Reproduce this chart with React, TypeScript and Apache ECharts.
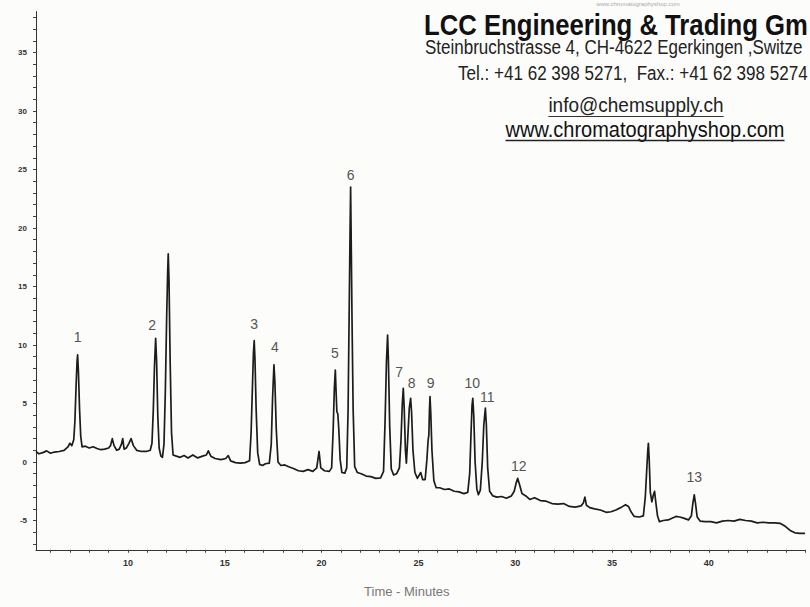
import React, { useEffect, useRef } from 'react';
import * as echarts from 'echarts';

// ---- axis ranges and ticks ----
const xAxisRange = [5.25, 45];
const yAxisRange = [-7.5, 38.5];
const xLabelValues = [10, 15, 20, 25, 30, 35, 40];
const xTickValues = [6, 7, 8, 9, 10, 11, 12, 13, 14, 15, 16, 17, 18, 19, 20, 21, 22, 23, 24, 25, 26, 27, 28, 29, 30, 31, 32, 33, 34, 35, 36, 37, 38, 39, 40, 41, 42, 43, 44, 45];
const yLabelValues = [-5, 0, 5, 10, 15, 20, 25, 30, 35];
const yTickValues = [-7, -6, -5, -4, -3, -2, -1, 0, 1, 2, 3, 4, 5, 6, 7, 8, 9, 10, 11, 12, 13, 14, 15, 16, 17, 18, 19, 20, 21, 22, 23, 24, 25, 26, 27, 28, 29, 30, 31, 32, 33, 34, 35, 36, 37, 38];

// ---- chromatogram trace [time (min), signal] ----
const traceEarly: [number, number][] = [
  [5.25, 0.9], [5.4, 0.7], [5.6, 0.8], [5.8, 0.95], [6.0, 0.75], [6.2, 0.85], [6.45, 0.9], [6.7, 1.0], [6.9, 1.3], [7.0, 1.6], [7.1, 1.4], [7.2, 1.9],
  [7.26, 3.5], [7.32, 6.5], [7.37, 8.6], [7.4, 9.15], [7.44, 7.8], [7.5, 4.5], [7.56, 2.2], [7.63, 1.3],
  [7.8, 1.35], [8.0, 1.2], [8.2, 1.3], [8.4, 1.15], [8.6, 1.05], [8.8, 1.1], [9.0, 1.2],
  [9.1, 1.4], [9.19, 2.0], [9.28, 1.4], [9.42, 1.0], [9.55, 1.1], [9.66, 1.5], [9.73, 2.0], [9.8, 1.1], [9.92, 1.2], [10.05, 1.6], [10.16, 2.0], [10.28, 1.4], [10.45, 1.0], [10.7, 0.9], [10.95, 0.9], [11.15, 1.0],
  [11.24, 1.6], [11.31, 4.5], [11.37, 8.2], [11.43, 10.57], [11.48, 8.6], [11.54, 4.0], [11.61, 1.2], [11.7, 0.5], [11.78, 0.4],
  [11.86, 1.5], [11.93, 6.0], [12.0, 12.5], [12.05, 16.2], [12.08, 17.8], [12.12, 15.5], [12.18, 8.5], [12.25, 2.5], [12.33, 0.6],
];

const traceMiddle: [number, number][] = [
  [12.5, 0.5], [12.7, 0.4], [12.9, 0.55], [13.1, 0.35], [13.35, 0.6], [13.6, 0.35], [13.85, 0.5], [14.05, 0.6], [14.15, 0.95], [14.28, 0.5], [14.5, 0.3], [14.8, 0.2], [15.05, 0.3], [15.18, 0.55], [15.3, 0.1], [15.55, -0.05], [15.8, -0.1], [16.05, -0.05], [16.28, 0.1],
  [16.36, 2.5], [16.43, 6.5], [16.48, 9.3], [16.52, 10.37], [16.56, 8.8], [16.62, 4.5], [16.7, 0.8], [16.8, -0.2], [16.95, -0.3], [17.1, -0.15], [17.3, -0.1],
  [17.4, 1.5], [17.47, 5.5], [17.54, 8.3], [17.59, 6.8], [17.66, 2.8], [17.75, 0.0], [17.9, -0.3], [18.1, -0.25], [18.3, -0.4], [18.55, -0.55], [18.8, -0.75], [19.05, -0.8], [19.3, -0.65], [19.55, -0.8], [19.75, -0.5], [19.87, 0.9], [19.96, -0.5], [20.15, -0.75], [20.4, -0.8], [20.52, -0.5],
  [20.6, 2.8], [20.66, 6.3], [20.71, 7.86], [20.75, 6.0], [20.79, 4.3], [20.84, 4.1], [20.89, 2.8], [20.96, 0.2], [21.05, -0.9], [21.2, -0.95], [21.3, -0.5],
  [21.37, 4.5], [21.43, 13.5], [21.47, 19.5], [21.5, 23.5], [21.53, 19.0], [21.57, 12.5], [21.63, 4.5], [21.71, -0.4], [21.85, -0.9], [22.05, -1.0], [22.3, -1.2], [22.55, -1.25], [22.8, -1.4], [23.05, -1.35], [23.2, -0.8],
  [23.28, 3.5], [23.35, 8.5], [23.41, 10.85], [23.45, 8.8], [23.52, 3.0], [23.6, -0.6], [23.72, -1.1], [23.88, -1.0], [24.02, -0.5],
  [24.1, 1.8], [24.17, 5.0], [24.22, 6.3], [24.27, 4.5], [24.33, 1.0], [24.38, -0.1],
  [24.45, 2.0], [24.53, 4.6], [24.6, 5.44], [24.65, 4.2], [24.72, 1.0], [24.82, -0.9], [24.95, -1.4], [25.05, -1.1], [25.12, -0.9], [25.22, -1.5], [25.35, -1.5],
  [25.44, 0.2], [25.5, 1.8], [25.54, 2.3], [25.57, 4.3], [25.6, 5.6], [25.64, 4.2], [25.7, 1.0], [25.8, -1.6], [25.92, -2.2],
];

const traceLate: [number, number][] = [
  [26.1, -2.2], [26.35, -2.35], [26.6, -2.3], [26.85, -2.5], [27.1, -2.55], [27.35, -2.7], [27.55, -2.6],
  [27.65, -1.0], [27.72, 2.5], [27.77, 4.8], [27.81, 5.44], [27.86, 4.0], [27.93, 0.0], [28.02, -2.3], [28.1, -2.8], [28.2, -2.4],
  [28.3, 0.0], [28.38, 3.2], [28.46, 4.6], [28.51, 3.2], [28.58, -0.5], [28.68, -2.5], [28.85, -2.9], [29.05, -3.0], [29.3, -2.95], [29.55, -3.1], [29.8, -2.9],
  [29.95, -2.5], [30.05, -1.8], [30.13, -1.4], [30.22, -1.9], [30.35, -2.7], [30.55, -2.9], [30.75, -3.2], [31.0, -3.05], [31.3, -3.3], [31.6, -3.35], [31.9, -3.55], [32.2, -3.6], [32.5, -3.55], [32.8, -3.8], [33.1, -3.85], [33.4, -3.75], [33.52, -3.5], [33.6, -3.0], [33.68, -3.7], [33.85, -3.9], [34.1, -4.0], [34.4, -4.1], [34.7, -4.3], [34.95, -4.25], [35.2, -4.1], [35.45, -3.9], [35.7, -3.65], [35.85, -3.8], [36.0, -4.3], [36.15, -4.65], [36.4, -4.7], [36.62, -4.6],
  [36.72, -3.0], [36.8, -0.5], [36.85, 1.0], [36.88, 1.6], [36.92, 0.3], [36.98, -2.6], [37.06, -3.4], [37.14, -2.8], [37.2, -2.5], [37.26, -3.4], [37.35, -4.6], [37.45, -5.1], [37.65, -5.0], [37.9, -4.95], [38.1, -4.8], [38.3, -4.65], [38.5, -4.7], [38.7, -4.8], [38.95, -4.95], [39.1, -4.6],
  [39.18, -3.5], [39.25, -2.8], [39.31, -3.5], [39.4, -4.7], [39.55, -5.05], [39.8, -5.1], [40.1, -5.1], [40.4, -5.2], [40.7, -5.05], [41.0, -5.0], [41.3, -5.05], [41.6, -4.9], [41.9, -5.0], [42.2, -5.05], [42.5, -5.2], [42.8, -5.15], [43.1, -5.2], [43.4, -5.2], [43.7, -5.25], [43.95, -5.5], [44.2, -5.85], [44.45, -6.05], [44.7, -6.1], [44.97, -6.1],
];

// ---- peak numbers: [label, time, signal] (label centre) ----
const peakLabels: [string, number, number][] = [
  ['1', 7.4, 10.7], ['2', 11.25, 11.7], ['3', 16.52, 11.8], ['4', 17.59, 9.8], ['5', 20.69, 9.35], ['6', 21.5, 24.5],
  ['7', 24.01, 7.67], ['8', 24.65, 6.72], ['9', 25.63, 6.72], ['10', 27.78, 6.78], ['11', 28.56, 5.53], ['12', 30.18, -0.34], ['13', 39.25, -1.31],
];

// ---- header texts ----
const headerTiny = 'www.chromatographyshop.com';
const headerCompany = 'LCC Engineering & Trading Gm';
const headerAddress = 'Steinbruchstrasse 4, CH-4622 Egerkingen ,Switze';
const headerPhone = 'Tel.: +41 62 398 5271,  Fax.: +41 62 398 5274';
const headerMail = 'info@chemsupply.ch';
const headerWeb = 'www.chromatographyshop.com';
const xAxisTitle = 'Time - Minutes';

const FONT = '"Liberation Sans", Arial, sans-serif';

export default function App() {
  const ref = useRef<HTMLDivElement>(null);

  useEffect(() => {
    document.body.style.margin = '0';
    const chart = echarts.init(ref.current as HTMLDivElement, null, { renderer: 'svg' });

    const ctx = document.createElement('canvas').getContext('2d') as CanvasRenderingContext2D;
    const measure = (text: string, font: string) => {
      ctx.font = font;
      return ctx.measureText(text).width;
    };

    const companyFont = `bold 26px ${FONT}`;
    const phoneFont = `18px ${FONT}`;
    const mailFont = `19px ${FONT}`;
    const webFont = `20px ${FONT}`;
    const mailW = measure(headerMail, mailFont);
    const webW = measure(headerWeb, webFont);
    const mailCx = 636;
    const webCx = 645;
    // fit the two long header lines inside the page's right edge
    const companyScaleX = Math.min(1, (808 - 424) / measure(headerCompany, companyFont));
    const phoneScaleX = Math.min(1, (808 - 458) / measure(headerPhone, phoneFont));

    const txt = (
      text: string, x: number, y: number, font: string, fill: string, align: string, lineHeight: number, scaleY = 1.1, scaleX = 1,
    ) => ({
      type: 'text',
      x,
      y,
      scaleX,
      scaleY,
      silent: true,
      style: {
        text,
        font,
        fill,
        lineHeight,
        align,
        verticalAlign: 'middle',
        textAlign: align,
        textVerticalAlign: 'middle',
      },
    });

    const trace = [...traceEarly, ...traceMiddle, ...traceLate];

    const option: any = {
      animation: false,
      backgroundColor: '#fcfcfb',
      grid: { left: 36, right: 4.4, top: 11.55, bottom: 57.25, containLabel: false },
      xAxis: {
        type: 'value',
        min: xAxisRange[0],
        max: xAxisRange[1],
        axisLine: { show: true, onZero: false, lineStyle: { color: '#333', width: 1 } },
        axisTick: { show: true, inside: false, length: 3, customValues: xTickValues, lineStyle: { color: '#444', width: 1 } },
        axisLabel: { customValues: xLabelValues, margin: 9, fontSize: 9, fontWeight: 'bold', color: '#333', fontFamily: FONT },
        splitLine: { show: false },
        name: xAxisTitle,
        nameLocation: 'middle',
        nameGap: 35,
        nameTextStyle: { fontSize: 13, color: '#777', fontFamily: FONT, padding: [0, 28, 0, 0] },
      },
      yAxis: {
        type: 'value',
        min: yAxisRange[0],
        max: yAxisRange[1],
        axisLine: { show: true, onZero: false, lineStyle: { color: '#333', width: 1 } },
        axisTick: { show: true, inside: false, length: 3, customValues: yTickValues, lineStyle: { color: '#444', width: 1 } },
        axisLabel: { customValues: yLabelValues, margin: 9, fontSize: 8, fontWeight: 'bold', color: '#333', fontFamily: FONT },
        splitLine: { show: false },
      },
      series: [
        {
          type: 'line',
          data: trace,
          symbol: 'none',
          showSymbol: false,
          silent: true,
          lineStyle: { color: '#1c1c1c', width: 1.7, join: 'round' },
        },
        {
          type: 'scatter',
          silent: true,
          symbolSize: 0,
          itemStyle: { color: '#555', opacity: 0 },
          data: peakLabels.map(([name, t, v]) => ({ name, value: [t, v] })),
          label: {
            show: true,
            position: 'inside',
            formatter: '{b}',
            color: '#555',
            opacity: 1,
            textBorderWidth: 0,
            textBorderColor: 'transparent',
            fontSize: 14,
            fontFamily: FONT,
          },
        },
      ],
      graphic: [
        txt(headerTiny, 638, 4, `6px ${FONT}`, '#aaa', 'center', 6, 1),
        txt(headerCompany, 424, 24.8, companyFont, '#111', 'left', 19, 1.1, companyScaleX),
        txt(headerAddress, 425, 47, `17px ${FONT}`, '#222', 'left', 13, 1.15),
        txt(headerPhone, 458, 72.5, phoneFont, '#222', 'left', 14, 1.12, phoneScaleX),
        txt(headerMail, mailCx, 105, mailFont, '#222', 'center', 15),
        {
          type: 'line',
          silent: true,
          shape: { x1: mailCx - mailW / 2, y1: 116.5, x2: mailCx + mailW / 2, y2: 116.5 },
          style: { stroke: '#333', lineWidth: 1.2 },
        },
        txt(headerWeb, webCx, 129, webFont, '#111', 'center', 16),
        {
          type: 'line',
          silent: true,
          shape: { x1: webCx - webW / 2, y1: 140.5, x2: webCx + webW / 2, y2: 140.5 },
          style: { stroke: '#222', lineWidth: 1.3 },
        },
      ],
    };

    chart.setOption(option);
    return () => chart.dispose();
  }, []);

  return (
    <div
      ref={ref}
      style={{ position: 'absolute', left: 0, top: 0, width: 810, height: 607 }}
    />
  );
}
